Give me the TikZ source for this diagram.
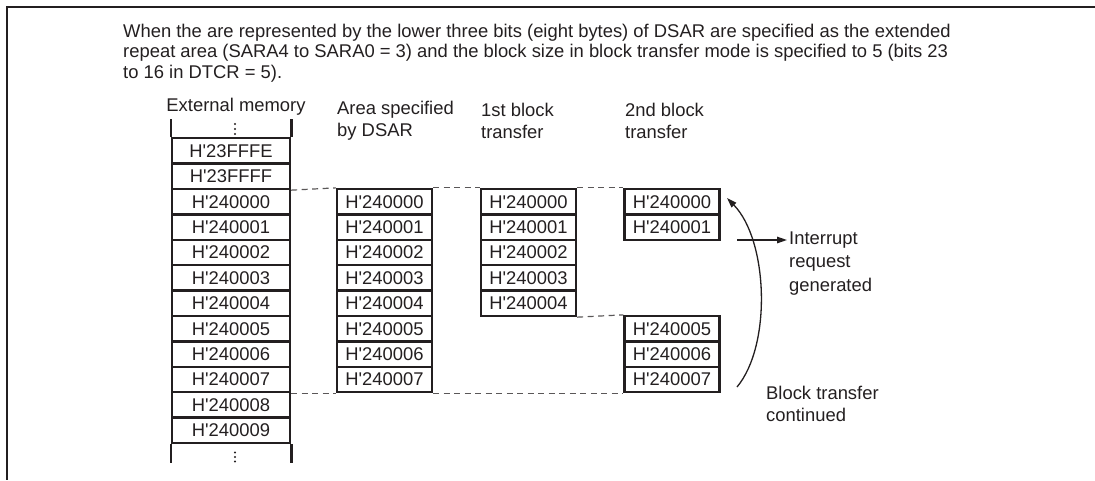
\documentclass[tikz,border=0pt]{standalone}
\usepackage{fontspec}
\setmainfont{Liberation Sans}
\usetikzlibrary{arrows.meta}
\definecolor{ink}{HTML}{231F20}
\newcommand\diafont{\fontsize{18.4}{22}\selectfont}
\newcommand\hq{H\textquotesingle}
\tikzset{
  cell/.style={draw=ink, line width=2.3pt, inner sep=0pt, font=\diafont, text=ink, minimum height=25.4pt},
  extcell/.style={cell, minimum width=118pt},
  blkcell/.style={cell, minimum width=95pt},
  dashline/.style={draw=ink!75, line width=1.2pt, dash pattern=on 6pt off 4.5pt},
  label/.style={font=\diafont, text=ink, inner sep=0pt, align=left},
  arr/.style={draw=ink, line width=1.3pt, -{Triangle[length=10pt,width=6.5pt]}},
  dotmark/.style={fill=ink, draw=none},
  sideline/.style={draw=ink, line width=2.7pt},
}
\begin{document}
\begin{tikzpicture}[x=1pt,y=-1pt]
\useasboundingbox (0,0) rectangle (1095,480);
% frame
\coordinate (fr1) at (1095,7);
\coordinate (fr2) at (7,7);
\coordinate (fr3) at (7,480);
\draw[ink, line width=2.6pt] (fr1) -- (fr2) -- (fr3);
% paragraph
\node[label, anchor=west, font={\fontsize{18.4}{20.5}\selectfont}] (para) at (123,53)
 {When the are represented by the lower three bits (eight bytes) of DSAR are specified as the extended\\
  repeat area (SARA4 to SARA0 = 3) and the block size in block transfer mode is specified to 5 (bits 23\\
  to 16 in DTCR = 5).};
% headers
\node[label] (hext) at (236,107) {External memory};
\node[label, anchor=west] (hdsar) at (337,121) {Area specified\\by DSAR};
\node[label, anchor=west] (hfirst) at (481,121) {1st block\\transfer};
\node[label, anchor=west] (hsecond) at (625,121) {2nd block\\transfer};
% external memory column
\node[extcell] (em2) at (231,150.9) {\hq 23FFFE};
\node[extcell] (em1) at (231,176.3) {\hq 23FFFF};
\foreach \i in {0,...,9} \node[extcell] (e\i) at (231,{201.7+25.4*\i}) {\hq 24000\i};
\draw[sideline] (em2.north west) -- ++(0,-18);
\draw[sideline] (em2.north east) -- ++(0,-18);
\draw[sideline] (e9.south west) -- ++(0,19);
\draw[sideline] (e9.south east) -- ++(0,19);
\foreach \y in {124,129,134,452.5,457,461.5} \fill[dotmark] (235,\y) circle (1.15);
% DSAR area
\foreach \i in {0,...,7} \node[blkcell] (d\i) at (384.5,{201.7+25.4*\i}) {\hq 24000\i};
% 1st block transfer
\foreach \i in {0,...,4} \node[blkcell] (f\i) at (528.5,{201.7+25.4*\i}) {\hq 24000\i};
% 2nd block transfer
\foreach \i in {0,1,5,6,7} \node[blkcell] (s\i) at (672,{201.7+25.4*\i}) {\hq 24000\i};
% dashed guides
\draw[dashline] (em1.south east) -- (d0.north west);
\draw[dashline] (d0.north east) -- (f0.north west);
\draw[dashline] (f0.north east) -- (s0.north west);
\draw[dashline] (f4.south east) -- (s5.north west);
\draw[dashline] (e7.south east) -- (d7.south west);
\draw[dashline] (d7.south east) -- (s7.south west);
% labels on right
\node[label, anchor=west, font={\fontsize{18.4}{23.5}\selectfont}] (intr) at (789,263.5) {Interrupt\\request\\generated};
\node[label, anchor=west] (cont) at (766,404) {Block transfer\\continued};
% arrows
\coordinate (ia) at (737,240);
\coordinate (ib) at (787,240);
\draw[arr] (ia) -- (ib);
\coordinate (cs) at (737,387);
\coordinate (ce) at (727,198);
\draw[arr] (cs) .. controls (772,345) and (768,240) .. (ce);
\end{tikzpicture}
\end{document}
